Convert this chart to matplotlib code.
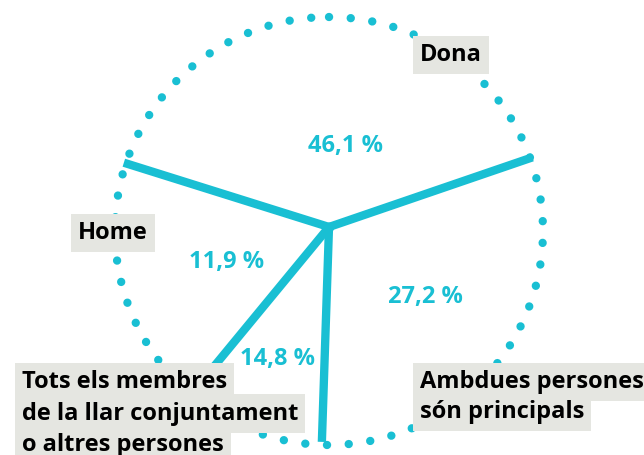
"""Pie-style chart: who is the main person of the household (Catalan labels)."""
import matplotlib

matplotlib.use("Agg")
import matplotlib.pyplot as plt  # noqa: E402
from matplotlib.patches import Circle  # noqa: E402
import numpy as np  # noqa: E402

# data
categories = ["Dona", "Home", "Tots els membres\nde la llar conjuntament\no altres persones",
              "Ambdues persones\nsón principals"]
shares = [46.1, 11.9, 14.8, 27.2]
# directions of the dividing spokes as drawn in the source (degrees, ccw from east)
spoke_deg = [18.9, 162.6, 230.5, 268.1]

CYAN = "#19bfd3"
GREY = "#e5e6e1"
FONT = ["Open Sans", "DejaVu Sans"]
FS = 17.0

fig = plt.figure(figsize=(6.44, 4.55), dpi=100)
ax = fig.add_axes([0, 0, 1, 1])
ax.set_xlim(0, 644)
ax.set_ylim(455, 0)
ax.axis("off")

# dotted outline
ax.add_patch(Circle((329, 231), 214, fill=False, ec=CYAN, lw=6,
                    ls=(0, (0.01, 2.6)), capstyle="round", zorder=1))

# spokes
cx, cy, r = 329, 227, 215
for a in spoke_deg:
    t = np.deg2rad(a)
    ax.plot([cx, cx + r * np.cos(t)], [cy, cy - r * np.sin(t)], color=CYAN,
            lw=6, solid_capstyle="butt", zorder=2)
ax.plot([cx], [cy], "o", color=CYAN, ms=6, zorder=2)

# percentage labels (centre x, baseline y)
pct_pos = [(346, 152), (227, 268), (278, 365), (425, 303)]
for v, (x, y) in zip(shares, pct_pos):
    ax.text(x, y, f"{v:.1f} %".replace(".", ","), color=CYAN, fontsize=FS,
            fontweight="bold", family=FONT, ha="center", va="baseline", zorder=4)

# category labels: left x, first baseline, line step
lab_pos = [(420, 61, 31), (78, 239, 31), (22, 388, 31.5), (420, 388, 29.5)]
for name, (x, y, step) in zip(categories, lab_pos):
    for i, line in enumerate(name.split("\n")):
        yy = y + i * step
        ax.text(x, yy, line, color=(0, 0, 0, 0), fontsize=FS, fontweight="bold",
                family=FONT, ha="left", va="baseline", zorder=3,
                bbox=dict(boxstyle="square,pad=0.3", fc=GREY, ec="none"))
        ax.text(x, yy, line, color="black", fontsize=FS, fontweight="bold",
                family=FONT, ha="left", va="baseline", zorder=4)

fig.savefig("out.png", dpi=100)
